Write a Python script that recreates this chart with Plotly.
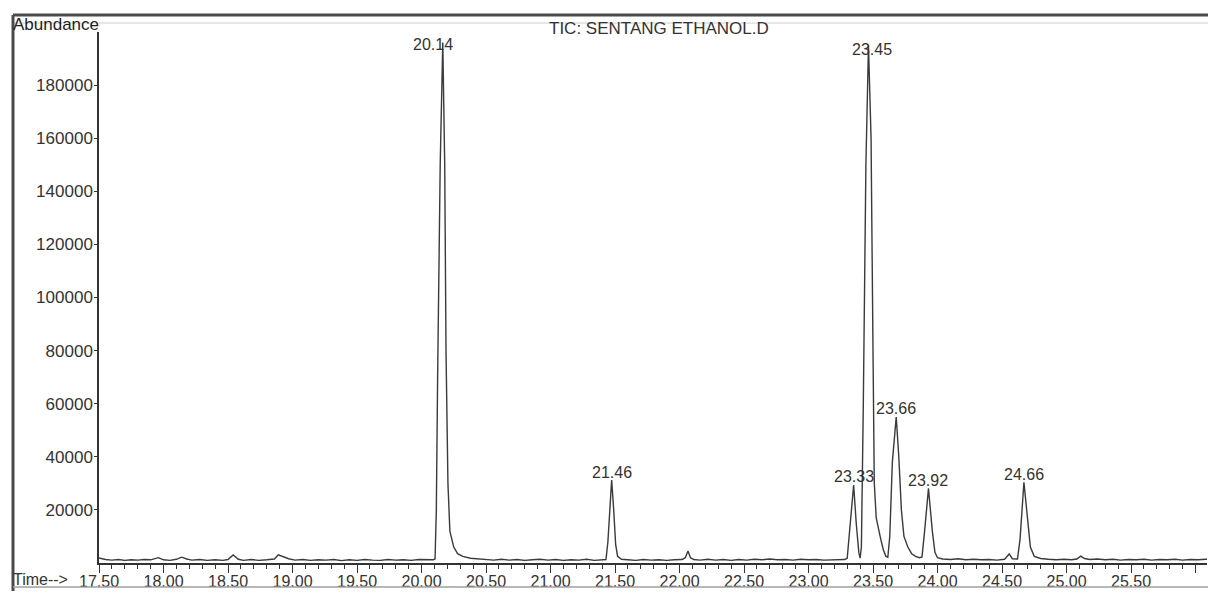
import plotly.graph_objects as go

# ---------------- data ----------------
time_min = [
    17.50, 17.55, 17.60, 17.65, 17.70, 17.75, 17.80, 17.85, 17.90, 17.96, 18.00, 18.05, 18.10, 18.14, 18.18,
    18.22, 18.28, 18.34, 18.40, 18.46, 18.50, 18.54, 18.58, 18.62, 18.68, 18.74, 18.80, 18.86, 18.89, 18.93,
    18.97, 19.02, 19.08, 19.14, 19.20, 19.26, 19.32, 19.38, 19.44, 19.50, 19.56, 19.62, 19.68, 19.74, 19.80,
    19.86, 19.92, 19.98, 20.04, 20.09,
    20.105, 20.115, 20.125, 20.145, 20.165, 20.18, 20.19, 20.205, 20.22, 20.25, 20.28, 20.32, 20.38, 20.45,
    20.50, 20.56, 20.62, 20.68, 20.74, 20.80, 20.86, 20.92, 20.98, 21.04, 21.10, 21.16, 21.22, 21.28, 21.34,
    21.40, 21.43, 21.445, 21.46, 21.474, 21.49, 21.505, 21.52, 21.55, 21.60, 21.66, 21.72, 21.78, 21.84, 21.90,
    21.96, 22.02, 22.045, 22.066, 22.085, 22.11, 22.16, 22.22, 22.28, 22.34, 22.40, 22.46, 22.52, 22.58, 22.64,
    22.70, 22.76, 22.82, 22.88, 22.94, 23.00, 23.06, 23.12, 23.18, 23.24, 23.28,
    23.30, 23.32, 23.35, 23.37, 23.39, 23.40, 23.41, 23.425, 23.445, 23.465, 23.485, 23.50, 23.51, 23.525,
    23.54, 23.56, 23.58, 23.60, 23.615, 23.63, 23.65, 23.68, 23.70, 23.72, 23.74, 23.77, 23.80, 23.83, 23.86,
    23.88, 23.90, 23.93, 23.96, 23.98, 24.00, 24.04, 24.10, 24.16, 24.22, 24.28, 24.34, 24.40, 24.46, 24.52,
    24.556, 24.58, 24.62, 24.64, 24.67, 24.70, 24.72, 24.75, 24.80, 24.86, 24.92, 24.98, 25.04, 25.08, 25.11,
    25.14, 25.18, 25.24, 25.30, 25.36, 25.42, 25.48, 25.54, 25.60, 25.66, 25.72, 25.78, 25.84, 25.90, 25.96,
    26.02, 26.08, 26.14,
]
abundance = [
    1900, 1300, 1100, 1300, 1000, 1200, 1100, 1300, 1200, 2000, 1200, 1000, 1400, 2200, 1500,
    1100, 1300, 1000, 1200, 1000, 1300, 3000, 1400, 1000, 1300, 1000, 1200, 1500, 3100, 2200,
    1600, 1100, 1300, 1000, 1200, 1100, 1300, 900, 1200, 1000, 1300, 1100, 1000, 1300, 1100,
    1200, 1000, 1300, 1100, 1200,
    1500, 20000, 70000, 150000, 196000, 150000, 80000, 30000, 12000, 6000, 3500, 2500, 1800, 1500,
    1300, 1100, 1400, 1100, 1300, 1000, 1200, 1400, 1100, 1300, 1000, 1200, 1100, 1400, 1000,
    1200, 1300, 8000, 22000, 31200, 20000, 7000, 2500, 1400, 1200, 1000, 1300, 1100, 1200, 1000,
    1200, 1300, 2000, 4500, 2000, 1300, 1100, 1400, 1100, 1300, 1000, 1300, 1100, 1400, 1200,
    1500, 1200, 1300, 1100, 1400, 1200, 1300, 1100, 1200, 1100, 1300,
    1800, 12000, 29400, 15000, 4000, 1800, 6000, 60000, 150000, 195000, 160000, 80000, 30000, 17000,
    13000, 9000, 5000, 2500, 2200, 10000, 38000, 55000, 40000, 20000, 10000, 6000, 3500, 2500, 2000,
    2300, 12000, 28100, 12000, 4000, 2000, 1500, 1300, 1600, 1200, 1400, 1200, 1300, 1100, 1400,
    3400, 1600, 1500, 9000, 30400, 17000, 6000, 2500, 1700, 1400, 1200, 1400, 1200, 1500, 2600,
    1700, 1300, 1500, 1200, 1400, 1100, 1300, 1200, 1400, 1100, 1300, 1200, 1400, 1100, 1300,
    1200, 1400, 1300,
]

peak_labels = ["20.14", "21.46", "23.33", "23.45", "23.66", "23.92", "24.66"]
peak_times = [20.165, 21.474, 23.35, 23.465, 23.68, 23.93, 24.67]
peak_heights = [196000, 31200, 29400, 195000, 55000, 28100, 30400]

x_tick_vals = [17.5, 18.0, 18.5, 19.0, 19.5, 20.0, 20.5, 21.0, 21.5, 22.0, 22.5, 23.0, 23.5, 24.0, 24.5, 25.0, 25.5, 26.0]
x_tick_text = ["17.50", "18.00", "18.50", "19.00", "19.50", "20.00", "20.50", "21.00", "21.50", "22.00",
               "22.50", "23.00", "23.50", "24.00", "24.50", "25.00", "25.50", ""]
y_tick_vals = [20000, 40000, 60000, 80000, 100000, 120000, 140000, 160000, 180000]
y_tick_text = ["20000", "40000", "60000", "80000", "100000", "120000", "140000", "160000", "180000"]

title_text = "TIC: SENTANG ETHANOL.D"
y_label_text = "Abundance"
x_label_text = "Time-->"

# ---------------- layout geometry ----------------
# The page body keeps its default 8px margin, so the figure sits 8px in from
# the window corner; size it so it fits the window without overflow.
OFF = 8
SCREEN_W, SCREEN_H = 1216, 599
W, H = SCREEN_W - 2 * OFF, SCREEN_H - 2 * OFF
PLOT_LEFT, PLOT_RIGHT, PLOT_TOP, PLOT_BOTTOM = 99, 1207, 32, 565   # screen pixels
PX_PER_MIN = 129.0
X0 = 17.5
X1 = X0 + (PLOT_RIGHT - PLOT_LEFT) / PX_PER_MIN
L = PLOT_LEFT - OFF
T = PLOT_TOP - OFF
R = (OFF + W) - PLOT_RIGHT
B = (OFF + H) - PLOT_BOTTOM
PW = PLOT_RIGHT - PLOT_LEFT
PH = PLOT_BOTTOM - PLOT_TOP
INK = "#333333"
FONT = "Liberation Sans, Arial, sans-serif"


def px(xs):
    return (xs - PLOT_LEFT) / PW


def py(ys):
    return (PLOT_BOTTOM - ys) / PH


fig = go.Figure()
fig.add_trace(go.Scatter(
    x=time_min, y=abundance, mode="lines",
    line=dict(color="#3a3a3a", width=1.4),
    hoverinfo="x+y", showlegend=False, cliponaxis=True,
))

annotations = []
label_shift = {"20.14": (-10, -2), "23.45": (4, -4)}
for lab, t, h in zip(peak_labels, peak_times, peak_heights):
    dx, dy = label_shift.get(lab, (0, 8))
    annotations.append(dict(
        x=t, y=h, xref="x", yref="y", text=lab, showarrow=False,
        xanchor="center", yanchor="middle", xshift=dx, yshift=dy,
        font=dict(family=FONT, size=16, color=INK),
    ))

annotations += [
    dict(x=px(659), y=py(28), xref="paper", yref="paper", text=title_text, showarrow=False,
         xanchor="center", yanchor="middle", font=dict(family=FONT, size=17, color=INK)),
    dict(x=px(13), y=py(24), xref="paper", yref="paper", text=y_label_text, showarrow=False,
         xanchor="left", yanchor="middle", xshift=-2, font=dict(family=FONT, size=17, color="#1e1e1e")),
    dict(x=px(13), y=py(582), xref="paper", yref="paper", text=x_label_text, showarrow=False,
         xanchor="left", yanchor="middle", xshift=-2, font=dict(family=FONT, size=16, color=INK)),
]

shapes = [
    dict(type="line", xref="paper", yref="paper", x0=px(13), x1=px(1216), y0=py(15), y1=py(15),
         line=dict(color="#4a4a4a", width=3)),
    dict(type="line", xref="paper", yref="paper", x0=px(13), x1=px(1216), y0=py(23), y1=py(23),
         line=dict(color="#cfcfcf", width=1)),
    dict(type="line", xref="paper", yref="paper", x0=px(13), x1=px(13), y0=py(15), y1=py(599),
         line=dict(color="#4a4a4a", width=3)),
    dict(type="line", xref="paper", yref="paper", x0=px(13), x1=px(1216), y0=py(589), y1=py(589),
         line=dict(color="#a0a0a0", width=1.5)),
]

fig.update_layout(
    width=W, height=H,
    margin=dict(l=L, r=R, t=T, b=B, pad=0),
    paper_bgcolor="white", plot_bgcolor="white",
    showlegend=False,
    annotations=annotations,
    shapes=shapes,
    xaxis=dict(
        range=[X0, X1], showgrid=False, zeroline=False,
        showline=True, linecolor=INK, linewidth=1.5,
        tickmode="array", tickvals=x_tick_vals, ticktext=x_tick_text,
        ticks="outside", ticklen=8, tickwidth=1.2, tickcolor=INK,
        ticklabelstandoff=-5,
        minor=dict(dtick=0.1, tick0=17.5, ticks="outside", ticklen=4, tickwidth=1, tickcolor=INK, showgrid=False),
        tickfont=dict(family=FONT, size=16, color=INK),
    ),
    yaxis=dict(
        range=[0, 200000], showgrid=False, zeroline=False,
        showline=True, linecolor=INK, linewidth=1.5,
        tickmode="array", tickvals=y_tick_vals, ticktext=y_tick_text,
        ticks="outside", ticklen=3, tickwidth=1, tickcolor=INK,
        ticklabelstandoff=-2,
        tickfont=dict(family=FONT, size=17, color=INK),
    ),
)

fig.write_html("out.html")
